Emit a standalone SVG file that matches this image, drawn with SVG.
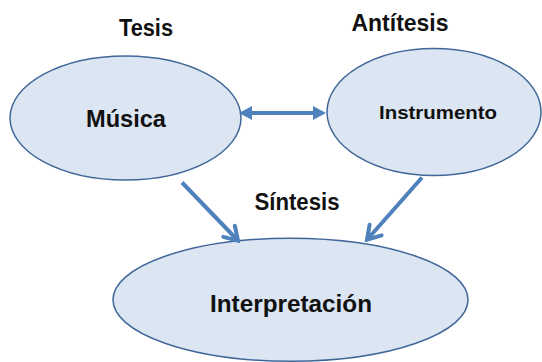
<svg xmlns="http://www.w3.org/2000/svg" width="542" height="362" viewBox="0 0 542 362">
<style>
.node ellipse{fill:#DCE6F2;stroke:#41679A;stroke-width:1.5}
text{font-family:"Liberation Sans",Arial,sans-serif;font-weight:bold;fill:#111;text-anchor:middle}
.lbl{font-size:23px}
.conn{stroke:#4F81BD;stroke-width:4;fill:none}
</style>
<defs>
<marker id="tri" markerUnits="userSpaceOnUse" viewBox="-15 -8 16 16" markerWidth="16" markerHeight="16" refX="-6" refY="0" orient="auto-start-reverse">
<path d="M-13,-7 L0,0 L-13,7 Z" fill="#4F81BD"/>
</marker>
<marker id="chev" markerUnits="userSpaceOnUse" viewBox="-17 -11 20 22" markerWidth="20" markerHeight="22" refX="-3" refY="0" orient="auto">
<path d="M-13,-8 L0,0 L-13,8" fill="none" stroke="#4F81BD" stroke-width="4" stroke-linecap="round" stroke-linejoin="miter"/>
</marker>
</defs>
<rect width="542" height="362" fill="#fff"/>
<g id="musica" class="node">
<ellipse cx="125.5" cy="118" rx="115.5" ry="62"/>
<text x="126" y="127" font-size="23" textLength="80" lengthAdjust="spacingAndGlyphs">Música</text>
</g>
<g id="instrumento" class="node">
<ellipse cx="434" cy="112" rx="107" ry="63.5"/>
<text x="438" y="119" font-size="18" textLength="118" lengthAdjust="spacingAndGlyphs">Instrumento</text>
</g>
<g id="interpretacion" class="node">
<ellipse cx="290.5" cy="299.7" rx="177.5" ry="61.5"/>
<text x="291" y="312" font-size="23" textLength="162" lengthAdjust="spacingAndGlyphs">Interpretación</text>
</g>
<g id="labels">
<text class="lbl" x="146" y="36" textLength="54" lengthAdjust="spacingAndGlyphs">Tesis</text>
<text class="lbl" x="400" y="31" textLength="97" lengthAdjust="spacingAndGlyphs">Antítesis</text>
<text class="lbl" x="297" y="210" textLength="85" lengthAdjust="spacingAndGlyphs">Síntesis</text>
</g>
<g id="connectors">
<line class="conn" x1="245" y1="113" x2="320" y2="113" marker-start="url(#tri)" marker-end="url(#tri)"/>
<line class="conn" x1="182" y1="182.5" x2="236" y2="238.5" marker-end="url(#chev)"/>
<line class="conn" x1="422" y1="177.5" x2="369" y2="237.5" marker-end="url(#chev)"/>
</g>
</svg>
